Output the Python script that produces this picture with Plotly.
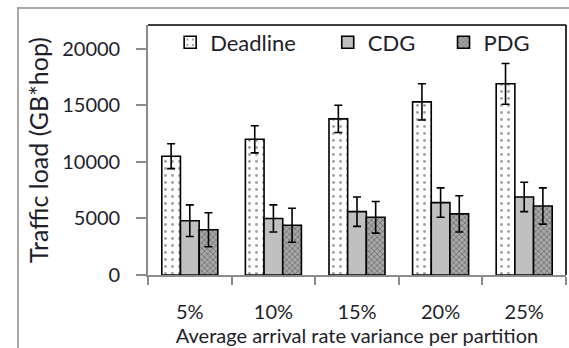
import plotly.graph_objects as go

categories = ["5%", "10%", "15%", "20%", "25%"]
deadline = [10500, 12000, 13800, 15300, 16900]
deadline_err = [1100, 1200, 1200, 1600, 1800]
cdg = [4800, 5000, 5600, 6400, 6900]
cdg_err = [1400, 1200, 1300, 1300, 1300]
pdg = [4000, 4400, 5100, 5400, 6100]
pdg_err = [1500, 1500, 1400, 1600, 1600]
y_ticks = [0, 5000, 10000, 15000, 20000]
y_tick_labels = ["0", "5000", "10000", "15000", "20000"]

FONT = "Lato"
TXT = "#1e1e2a"

def err(vals):
    return dict(type="data", array=vals, visible=True, color="black", thickness=1.6, width=4)

fig = go.Figure()
fig.add_trace(go.Bar(
    x=categories, y=deadline, name="Deadline", legend="legend",
    marker=dict(color="white", line=dict(color="black", width=1.6),
                pattern=dict(shape=".", size=7, solidity=0.14, fgcolor="#444", bgcolor="white")),
    error_y=err(deadline_err)))
fig.add_trace(go.Bar(
    x=categories, y=cdg, name="CDG", legend="legend2",
    marker=dict(color="#c0c0c0", line=dict(color="black", width=1.6)),
    error_y=err(cdg_err)))
fig.add_trace(go.Bar(
    x=categories, y=pdg, name="PDG", legend="legend3",
    marker=dict(color="#9a9a9a", line=dict(color="black", width=1.6),
                pattern=dict(shape="x", size=4, solidity=0.4, fgcolor="#404040", bgcolor="#a8a8a8")),
    error_y=err(pdg_err)))

leg_common = dict(orientation="h", yanchor="middle", xanchor="left", y=0.93,
                  bgcolor="rgba(0,0,0,0)", font=dict(family=FONT, size=22, color=TXT),
                  itemclick=False)

fig.update_layout(
    width=569, height=348,
    margin=dict(l=148, r=3, t=25, b=73, autoexpand=False),
    paper_bgcolor="white", plot_bgcolor="white",
    barmode="group", bargap=0.33, bargroupgap=0,
    font=dict(family=FONT, color=TXT),
    showlegend=True,
    legend=dict(x=0.053, **leg_common),
    legend2=dict(x=0.43, **leg_common),
    legend3=dict(x=0.707, **leg_common),
    xaxis=dict(type="category", showline=True, linecolor="#8c8c8c", linewidth=1.6, automargin=False,
               ticks="outside", tickson="boundaries", ticklen=8, tickcolor="#8c8c8c", tickwidth=1.6,
               tickfont=dict(family=FONT, size=20, color=TXT), ticklabelstandoff=18,
               title=dict(text="Average arrival rate variance per partition",
                          font=dict(family=FONT, size=20, color=TXT), standoff=3),
               showgrid=False, zeroline=False),
    yaxis=dict(range=[0, 22100], tickvals=y_ticks, ticktext=y_tick_labels, automargin=False,
               showline=True, linecolor="#8c8c8c", linewidth=1.6,
               ticks="outside", ticklen=10, tickcolor="#8c8c8c", tickwidth=1.6,
               tickfont=dict(family=FONT, size=20, color=TXT), ticklabelstandoff=12,
               title=dict(text="Traffic load (GB*hop)", font=dict(family=FONT, size=25, color=TXT), standoff=6),
               showgrid=False, zeroline=False),
    shapes=[
        dict(type="line", xref="paper", yref="paper", x0=0, x1=1, y0=1, y1=1,
             line=dict(color="black", width=1.6)),
        dict(type="line", xref="paper", yref="paper", x0=1, x1=1, y0=0, y1=1,
             line=dict(color="black", width=1.6)),
        dict(type="rect", xref="paper", yref="paper", x0=-0.311, x1=1.2, y0=-0.4, y1=1.068,
             line=dict(color="#a8a8a8", width=2), layer="below"),
    ],
)

fig.write_html("out.html", config={"displayModeBar": False},
               post_script="document.body.style.margin='0';")
